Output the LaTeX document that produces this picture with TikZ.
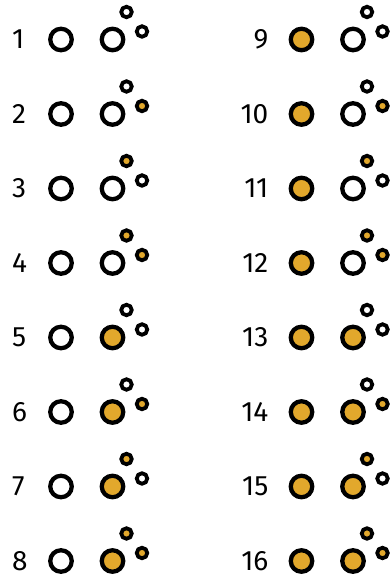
\documentclass[tikz,border=0pt]{standalone}
\usepackage{fontspec}
\setmainfont{Fira Sans}
\definecolor{gold}{HTML}{E2A82C}
\begin{document}
\begin{tikzpicture}[x=1pt,y=1pt,
  bigc/.style={circle,draw=black,line width=4.3pt,minimum size=21.5pt,inner sep=0pt},
  smallc/.style={circle,draw=black,line width=3.8pt,minimum size=10.5pt,inner sep=0pt},
  on/.style={fill=gold},
  off/.style={fill=white},
  lbl/.style={inner sep=0pt,font=\fontsize{28}{28}\selectfont}]
\useasboundingbox (0,0) rectangle (390,578);
\foreach \n in {1,...,16}{
  \pgfmathtruncatemacro{\k}{\n-1}
  \pgfmathtruncatemacro{\bA}{mod(floor(\k/8),2)}
  \pgfmathtruncatemacro{\bB}{mod(floor(\k/4),2)}
  \pgfmathtruncatemacro{\bC}{mod(floor(\k/2),2)}
  \pgfmathtruncatemacro{\bD}{mod(\k,2)}
  \pgfmathtruncatemacro{\r}{mod(\k,8)}
  \pgfmathsetmacro{\yy}{578-39.5-74.5*\r}
  \ifnum\n<9
    \def\xo{0}
    \node[lbl,anchor=west] (l\n) at (12,\yy) {\n};
  \else
    \def\xo{240.5}
    \node[lbl,anchor=east] (l\n) at (268.5,\yy) {\n};
  \fi
  \ifnum\bA=1 \def\sA{on}\else\def\sA{off}\fi
  \ifnum\bB=1 \def\sB{on}\else\def\sB{off}\fi
  \ifnum\bC=1 \def\sC{on}\else\def\sC{off}\fi
  \ifnum\bD=1 \def\sD{on}\else\def\sD{off}\fi
  \node[bigc,\sA] (a\n) at (61+\xo,\yy) {};
  \node[bigc,\sB] (b\n) at (112.5+\xo,\yy) {};
  \node[smallc,\sC] (c\n) at (126.5+\xo,\yy+27.5) {};
  \node[smallc,\sD] (d\n) at (142+\xo,\yy+8) {};
}
\end{tikzpicture}
\end{document}
